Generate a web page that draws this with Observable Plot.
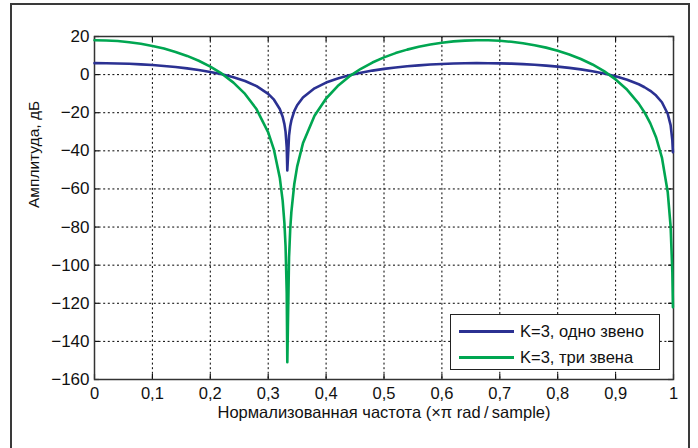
<!DOCTYPE html>
<html>
<head>
<meta charset="utf-8">
<script src="https://cdn.jsdelivr.net/npm/d3@7"></script>
<script src="https://cdn.jsdelivr.net/npm/@observablehq/plot@0.6"></script>
<style>
  html, body { margin: 0; padding: 0; background: #fff; }
  #wrap { position: relative; width: 698px; height: 448px; overflow: hidden; font-family: "Liberation Sans", Arial, sans-serif; }
  #border { position: absolute; left: 10px; top: 3px; width: 680px; height: 470px; border: 2px solid #3a3a3a; box-sizing: border-box; pointer-events: none; }
  #legend { position: absolute; left: 450px; top: 314px; width: 210px; height: 56px; border: 1.5px solid #222; background: #fff; box-sizing: border-box; font-size: 16.5px; color: #111; }
  #legend .row { position: absolute; left: 8px; height: 20px; display: flex; align-items: center; }
  #legend .sw { width: 55px; height: 3px; margin-right: 6px; }
</style>
</head>
<body>
<div id="wrap">
  <div id="chart"></div>
  <div id="border"></div>
  <div id="legend"></div>
</div>
<script>
// Normalized frequency (×π rad/sample)
const freq = [0, 0.02, 0.04, 0.06, 0.08, 0.10, 0.12, 0.14, 0.16, 0.18, 0.20, 0.22, 0.24, 0.26, 0.28, 0.30, 0.31, 0.32, 0.325, 0.328, 0.33, 0.332, 0.333, 0.334, 0.336, 0.338, 0.34, 0.345, 0.35, 0.36, 0.38, 0.40, 0.42, 0.44, 0.46, 0.48, 0.50, 0.52, 0.54, 0.56, 0.58, 0.60, 0.62, 0.64, 0.66, 0.68, 0.70, 0.72, 0.74, 0.76, 0.78, 0.80, 0.82, 0.84, 0.86, 0.88, 0.90, 0.92, 0.94, 0.95, 0.96, 0.97, 0.98, 0.99, 0.995, 0.998, 0.999];
// K=3, одно звено (dB)
const oneStage = [6.02, 5.98, 5.87, 5.67, 5.39, 5.02, 4.55, 3.97, 3.27, 2.43, 1.41, 0.16, -1.40, -3.38, -6.07, -10.09, -13.17, -18.02, -22.10, -25.98, -30.06, -38.2, -50.3, -44.2, -32.0, -27.1, -24.04, -19.18, -16.09, -12.02, -7.20, -4.18, -2.00, -0.32, 1.02, 2.11, 3.01, 3.76, 4.37, 4.87, 5.27, 5.58, 5.81, 5.95, 6.02, 6.00, 5.91, 5.74, 5.49, 5.15, 4.72, 4.18, 3.52, 2.73, 1.77, 0.60, -0.84, -2.66, -5.07, -6.62, -8.53, -11.00, -14.51, -20.52, -26.54, -34.5, -40.7];
// K=3, три звена (dB)
const threeStages = [18.06, 17.94, 17.61, 17.01, 16.17, 15.06, 13.65, 11.91, 9.81, 7.29, 4.23, 0.48, -4.20, -10.14, -18.21, -30.27, -39.51, -54.06, -66.30, -77.94, -90.18, -114.6, -150.9, -132.6, -96.0, -81.3, -72.12, -57.54, -48.27, -36.06, -21.60, -12.54, -6.00, -0.96, 3.06, 6.33, 9.03, 11.28, 13.11, 14.61, 15.81, 16.74, 17.43, 17.85, 18.06, 18.00, 17.73, 17.22, 16.47, 15.45, 14.16, 12.54, 10.56, 8.19, 5.31, 1.80, -2.52, -7.98, -15.21, -19.86, -25.59, -33.00, -43.53, -61.56, -79.62, -103.5, -122.1];

const seriesNames = ["K=3, одно звено", "K=3, три звена"];
const seriesColors = ["#2b3192", "#00a651"];
const xTicks = [0, 0.1, 0.2, 0.3, 0.4, 0.5, 0.6, 0.7, 0.8, 0.9, 1];
const yTicks = [20, 0, -20, -40, -60, -80, -100, -120, -140, -160];
const xLabel = "Нормализованная частота (×π rad\u2009/\u2009sample)";
const yLabel = "Амплитуда, дБ";

const data = [
  ...freq.map((f, i) => ({f, db: oneStage[i], s: seriesNames[0]})),
  ...freq.map((f, i) => ({f, db: threeStages[i], s: seriesNames[1]}))
];

const W = 698, H = 448, mL = 94, mR = 25, mT = 36, mB = 69;
const plotW = W - mL - mR, plotH = H - mT - mB;
const fmtX = d => String(d).replace(".", ",");
const grid = {stroke: "#000", strokeOpacity: 1, strokeWidth: 1, strokeDasharray: "2,2.6"};
const tickLen = 5;

const chart = Plot.plot({
  width: W, height: H,
  marginLeft: mL, marginRight: mR, marginTop: mT, marginBottom: mB,
  x: {domain: [0, 1]},
  y: {domain: [-160, 20]},
  color: {domain: seriesNames, range: seriesColors},
  style: {fontFamily: "'Liberation Sans', Arial, sans-serif", fontSize: "16px", color: "#111", background: "transparent"},
  marks: [
    Plot.gridX(xTicks, grid),
    Plot.gridY(yTicks, grid),
    Plot.ruleX(xTicks, {x: d => d, insetBottom: plotH - tickLen, stroke: "#111", strokeWidth: 1.2}),
    Plot.ruleX(xTicks, {x: d => d, insetTop: plotH - tickLen, stroke: "#111", strokeWidth: 1.2}),
    Plot.ruleY(yTicks, {y: d => d, insetRight: plotW - tickLen, stroke: "#111", strokeWidth: 1.2}),
    Plot.ruleY(yTicks, {y: d => d, insetLeft: plotW - tickLen, stroke: "#111", strokeWidth: 1.2}),
    Plot.frame({stroke: "#333", strokeWidth: 1.5}),
    Plot.axisX(xTicks, {anchor: "bottom", tickSize: 0, tickPadding: 8, tickFormat: fmtX, label: null, fontSize: 16.5}),
    Plot.axisY(yTicks, {anchor: "left", tickSize: 0, tickPadding: 5, label: null, fontSize: 17}),
    Plot.line(data, {x: "f", y: "db", z: "s", stroke: "s", strokeWidth: 2.6, curve: "linear"}),
    Plot.text([xLabel], {frameAnchor: "bottom", dy: 38, fontSize: 16.5, fill: "#111"}),
    Plot.text([yLabel], {frameAnchor: "left", dx: -60, rotate: -90, fontSize: 15.5, fill: "#111"})
  ]
});
document.getElementById("chart").appendChild(chart);

const legend = document.getElementById("legend");
seriesNames.forEach((name, i) => {
  const row = document.createElement("div");
  row.className = "row";
  row.style.top = (6 + i * 26) + "px";
  const sw = document.createElement("div");
  sw.className = "sw";
  sw.style.background = seriesColors[i];
  const t = document.createElement("span");
  t.textContent = name;
  row.appendChild(sw);
  row.appendChild(t);
  legend.appendChild(row);
});
</script>
</body>
</html>
